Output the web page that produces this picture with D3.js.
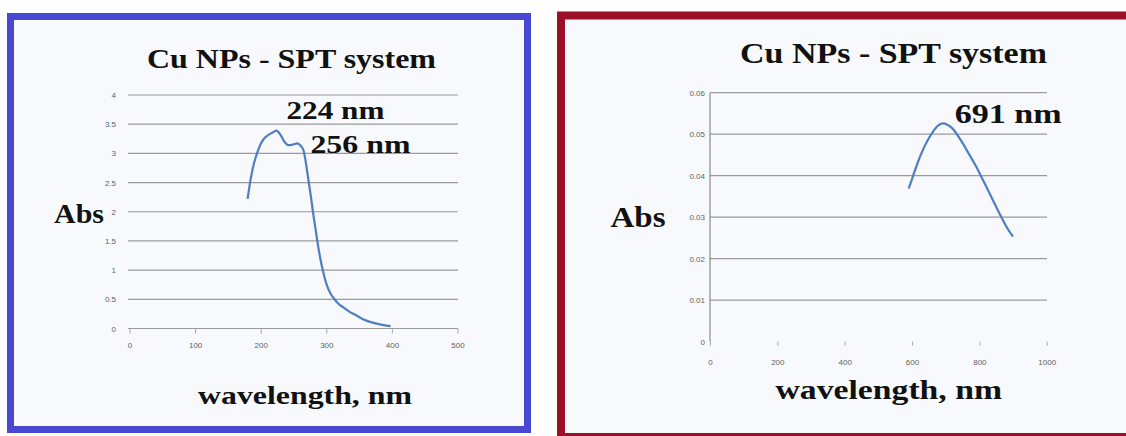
<!DOCTYPE html>
<html>
<head>
<meta charset="utf-8">
<script src="https://cdn.jsdelivr.net/npm/d3@7"></script>
<style>
  html, body { margin: 0; padding: 0; background: #ffffff; }
  svg { display: block; }
</style>
</head>
<body>
<svg id="chart" width="1126" height="436"></svg>
<script>
// UV range spectrum of the Cu NPs - SPT system
const uvWavelength = [180, 185, 190, 195, 200, 205, 211, 217, 224, 230, 236, 242, 249, 256, 261, 265, 268, 271, 274, 277, 280, 283, 286, 290, 295, 300, 306, 312, 318, 326, 335, 345, 356, 368, 380, 392, 398];
const uvAbs = [2.22, 2.58, 2.84, 3.02, 3.16, 3.25, 3.31, 3.35, 3.39, 3.32, 3.20, 3.14, 3.15, 3.17, 3.13, 3.06, 2.90, 2.68, 2.45, 2.22, 1.97, 1.75, 1.52, 1.25, 0.98, 0.77, 0.61, 0.51, 0.43, 0.36, 0.29, 0.23, 0.16, 0.11, 0.075, 0.05, 0.04];
const uvYTicks = [0, 0.5, 1, 1.5, 2, 2.5, 3, 3.5, 4];
const uvXTicks = [0, 100, 200, 300, 400, 500];
const uvPeakNm = [224, 256];
const uvPeakLabels = ["224 nm", "256 nm"];

// Visible range spectrum (surface plasmon band)
const visWavelength = [590, 600, 615, 630, 645, 660, 675, 691, 705, 720, 735, 750, 770, 790, 810, 830, 850, 870, 885, 900];
const visAbs = [0.0369, 0.0392, 0.0427, 0.0458, 0.0483, 0.0503, 0.0519, 0.0526, 0.0523, 0.0514, 0.0498, 0.0479, 0.0451, 0.0423, 0.0391, 0.0358, 0.0325, 0.0293, 0.0271, 0.0253];
const visYTicks = [0, 0.01, 0.02, 0.03, 0.04, 0.05, 0.06];
const visXTicks = [0, 200, 400, 600, 800, 1000];
const visPeakNm = [691];
const visPeakLabels = ["691 nm"];

const titleText = "Cu NPs - SPT system";
const yTitleText = "Abs";
const xTitleText = "wavelength, nm";

const svg = d3.select("#chart");
const serif = "'Liberation Serif', 'Times New Roman', serif";
const sans = "'Liberation Sans', Arial, sans-serif";

function drawPanel(cfg) {
  const g = svg.append("g");

  // framed panel
  g.append("rect")
    .attr("x", cfg.frame[0] + cfg.frameW / 2)
    .attr("y", cfg.frame[1] + cfg.frameW / 2)
    .attr("width", cfg.frame[2] - cfg.frame[0] - cfg.frameW)
    .attr("height", cfg.frame[3] - cfg.frame[1] - cfg.frameW)
    .attr("fill", "#f7f9fc")
    .attr("stroke", cfg.frameColor)
    .attr("stroke-width", cfg.frameW);

  const x = d3.scaleLinear().domain(cfg.xDomain).range(cfg.xRange);
  const y = d3.scaleLinear().domain(cfg.yDomain).range(cfg.yRange);

  // horizontal gridlines
  g.append("g")
    .selectAll("line")
    .data(cfg.yTicks.filter(v => cfg.gridAtZero || v !== 0))
    .join("line")
    .attr("x1", cfg.gridX[0])
    .attr("x2", cfg.gridX[1])
    .attr("y1", d => y(d))
    .attr("y2", d => y(d))
    .attr("stroke", "#9a9a9a")
    .attr("stroke-width", 1.2);

  // y axis line
  if (cfg.yAxisLine) {
    g.append("line")
      .attr("x1", x(cfg.xDomain[0])).attr("x2", x(cfg.xDomain[0]))
      .attr("y1", y(cfg.yDomain[1])).attr("y2", y(cfg.yDomain[0]))
      .attr("stroke", "#8a8a8a").attr("stroke-width", 1.2);
  }

  // y tick labels
  const yAxis = d3.axisLeft(y).tickValues(cfg.yTicks).tickSize(0).tickPadding(0)
    .tickFormat(cfg.yFormat);
  const yAxisG = g.append("g")
    .attr("transform", `translate(${cfg.yLabelX},0)`)
    .call(yAxis);
  yAxisG.select(".domain").remove();
  yAxisG.selectAll("text")
    .attr("font-family", sans).attr("font-size", 8).attr("fill", "#5f5f5f");

  // x ticks and labels
  const xAxis = d3.axisBottom(x).tickValues(cfg.xTicks).tickSize(cfg.xTickLen).tickPadding(cfg.xLabelPad)
    .tickFormat(d3.format("d"));
  const xAxisG = g.append("g")
    .attr("transform", `translate(0,${y(0)})`)
    .call(xAxis);
  xAxisG.select(".domain").remove();
  xAxisG.selectAll("line").attr("stroke", "#a8a8a8").attr("stroke-width", 1);
  xAxisG.selectAll("text")
    .attr("font-family", sans).attr("font-size", 8).attr("fill", "#5f5f5f");

  // spectrum curve
  const line = d3.line()
    .x((d, i) => x(cfg.xs[i]))
    .y(d => y(d))
    .curve(d3.curveMonotoneX);
  g.append("path")
    .datum(cfg.ys)
    .attr("d", line)
    .attr("fill", "none")
    .attr("stroke", "#4f7fc0")
    .attr("stroke-width", 2.2)
    .attr("stroke-linejoin", "round");

  // peak annotations
  cfg.peaks.forEach((nm, i) => {
    const yi = cfg.ys[cfg.xs.indexOf(nm)];
    g.append("text")
      .attr("x", x(nm) + cfg.peakOffsets[i][0])
      .attr("y", y(yi) + cfg.peakOffsets[i][1])
      .attr("font-family", serif).attr("font-weight", "bold")
      .attr("font-size", cfg.peakFont)
      .attr("textLength", cfg.peakLen[i]).attr("lengthAdjust", "spacingAndGlyphs")
      .attr("fill", "#111")
      .text(cfg.peakLabels[i]);
  });

  // titles
  const txt = (t, pos, size, len) => g.append("text")
    .attr("x", pos[0]).attr("y", pos[1])
    .attr("font-family", serif).attr("font-weight", "bold")
    .attr("font-size", size)
    .attr("textLength", len).attr("lengthAdjust", "spacingAndGlyphs")
    .attr("fill", "#111")
    .text(t);
  txt(titleText, cfg.titlePos, cfg.titleSize, cfg.titleLen);
  txt(yTitleText, cfg.absPos, cfg.absSize, cfg.absLen);
  txt(xTitleText, cfg.xTitlePos, cfg.xTitleSize, cfg.xTitleLen);
}

drawPanel({
  frame: [7, 13, 531, 433], frameW: 7, frameColor: "#4848d2",
  xDomain: [0, 500], xRange: [129.5, 457.5],
  yDomain: [0, 4], yRange: [328.5, 95],
  gridX: [128, 458], gridAtZero: true, yAxisLine: false,
  yTicks: uvYTicks, xTicks: uvXTicks, yFormat: d3.format("~g"),
  yLabelX: 116, xTickLen: 5, xLabelPad: 9,
  xs: uvWavelength, ys: uvAbs,
  peaks: uvPeakNm, peakLabels: uvPeakLabels,
  peakOffsets: [[10, -12], [13, 10]], peakFont: 25, peakLen: [98, 100],
  titlePos: [147, 68], titleSize: 27, titleLen: 289,
  absPos: [54, 222.5], absSize: 27, absLen: 50,
  xTitlePos: [198, 404], xTitleSize: 26, xTitleLen: 214
});

drawPanel({
  frame: [557, 11.5, 1134, 441], frameW: 8, frameColor: "#9a1028",
  xDomain: [0, 1000], xRange: [710, 1046.7],
  yDomain: [0, 0.06], yRange: [341.7, 92.7],
  gridX: [710, 1047], gridAtZero: false, yAxisLine: true,
  yTicks: visYTicks, xTicks: visXTicks, yFormat: d => d === 0 ? "0" : d3.format(".2f")(d),
  yLabelX: 705, xTickLen: 4, xLabelPad: 14,
  xs: visWavelength, ys: visAbs,
  peaks: visPeakNm, peakLabels: visPeakLabels,
  peakOffsets: [[12, 0]], peakFont: 27, peakLen: [107],
  titlePos: [740, 63.3], titleSize: 30, titleLen: 307,
  absPos: [610.5, 226.7], absSize: 30, absLen: 55,
  xTitlePos: [775.5, 399], xTitleSize: 28, xTitleLen: 226.5
});
</script>
</body>
</html>
